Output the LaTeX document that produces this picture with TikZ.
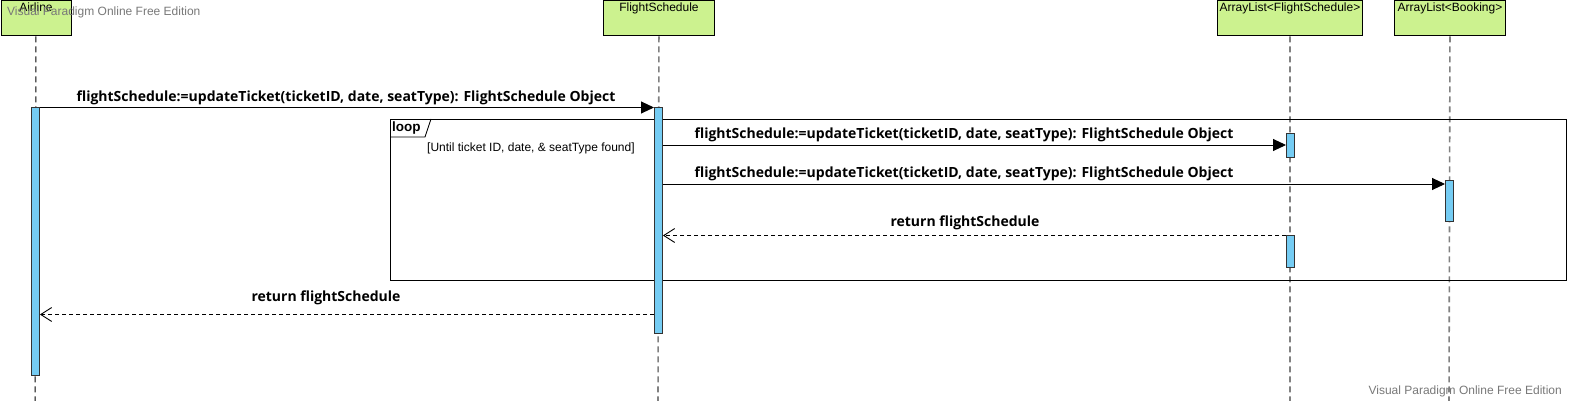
\documentclass[tikz,border=0pt]{standalone}
\usepackage{fontspec}
\setmainfont{Liberation Sans}
\newfontfamily\msgfont{Open Sans}
\usetikzlibrary{arrows.meta,calc}
\definecolor{boxgreen}{RGB}{204,242,143}
\definecolor{actblue}{RGB}{117,204,243}
\definecolor{lifegray}{RGB}{128,128,128}
\definecolor{wmgray}{RGB}{120,120,120}
\tikzset{
  lifebox/.style={draw=black, line width=0.9pt, fill=boxgreen, anchor=north west, inner sep=0pt},
  boxlabel/.style={anchor=north, inner sep=0pt, font=\fontsize{12}{13}\selectfont, yshift=-2pt},
  lifeline/.style={draw=lifegray, line width=1.6pt, dash pattern=on 6pt off 4pt},
  lifelineblack/.style={draw=black, line width=1pt, dash pattern=on 6pt off 4pt},
  actbar/.style={draw=black!80, line width=0.9pt, fill=actblue, anchor=north west, inner sep=0pt, minimum width=8pt},
  msg/.style={draw=black, line width=0.9pt, -{Triangle[length=13pt,width=12pt]}},
  ret/.style={draw=black, line width=0.9pt, dash pattern=on 4pt off 3pt, -{Straight Barb[length=11pt,width=14pt,line width=0.9pt]}},
  msglabel/.style={font=\msgfont\bfseries\fontsize{14}{16}\selectfont, inner sep=0pt},
  wm/.style={font=\fontsize{12}{14}\selectfont, text=wmgray, inner sep=0pt},
}
\begin{document}
\begin{tikzpicture}[x=1pt,y=-1pt]
\useasboundingbox (0,0) rectangle (1569,401);
% lifeline heads
\node[lifebox, minimum width=70pt, minimum height=35pt] (airline) at (0.5,0.5) {};
\node[lifebox, minimum width=111pt, minimum height=35pt] (fs) at (603,0.5) {};
\node[lifebox, minimum width=145pt, minimum height=35pt] (alfs) at (1217,0.5) {};
\node[lifebox, minimum width=111pt, minimum height=35pt] (alb) at (1394,0.5) {};
\node[boxlabel] (airlineL) at (airline.north) {Airline};
\node[boxlabel] (fsL) at (fs.north) {FlightSchedule};
\node[boxlabel] (alfsL) at (alfs.north) {ArrayList<FlightSchedule>};
\node[boxlabel] (albL) at (alb.north) {ArrayList<Booking>};
% lifeline ends
\coordinate (airlineEnd) at (35,401);
\coordinate (fsEnd) at (658,401);
\coordinate (alfsEnd) at (1290,401);
\coordinate (albEnd) at (1449,401);
\draw[lifelineblack] (airline.south) -- (airlineEnd);
\draw[lifeline] (fs.south) -- (fsEnd);
\draw[lifeline] (alfs.south) -- (alfsEnd);
\draw[lifeline] (alb.south) -- (albEnd);
% loop frame
\node[draw=black, line width=0.9pt, anchor=north west, minimum width=1176pt, minimum height=161pt, inner sep=0pt] (loopframe) at (390,119) {};
\coordinate (tabA) at (431,119);
\coordinate (tabB) at (425,137);
\coordinate (tabC) at (390,137);
\draw[black, line width=0.9pt] (tabA) -- (tabB) -- (tabC);
\node[font=\fontsize{13.5}{15}\selectfont\bfseries, anchor=west, inner sep=0pt] (loopL) at (392,128) {loop};
\node[font=\fontsize{12}{13}\selectfont, anchor=west, inner sep=0pt] (guard) at (427,148) {[Until ticket ID, date, \& seatType found]};
% activation bars
\node[actbar, minimum height=268pt] (actAir) at (31,107) {};
\node[actbar, minimum height=226pt] (actFs) at (654,107) {};
\node[actbar, minimum height=24pt] (actAlfs1) at (1286,133) {};
\node[actbar, minimum height=32pt] (actAlfs2) at (1286,235) {};
\node[actbar, minimum height=41pt] (actAlb) at (1445,180) {};
% message heights
\coordinate (y1) at (0,107.5);
\coordinate (y2) at (0,145);
\coordinate (y3) at (0,184);
\coordinate (y4) at (0,235.5);
\coordinate (y5) at (0,314.5);
% messages
\draw[msg] (actAir.east |- y1) -- (actFs.west |- y1);
\node[msglabel] (m1) at (346,97.5) {flightSchedule:=updateTicket(ticketID, date, seatType): FlightSchedule Object};
\draw[msg] (actFs.east |- y2) -- (actAlfs1.west |- y2);
\node[msglabel] (m2) at (964,134.5) {flightSchedule:=updateTicket(ticketID, date, seatType): FlightSchedule Object};
\draw[msg] (actFs.east |- y3) -- (actAlb.west |- y3);
\node[msglabel] (m3) at (964,173.5) {flightSchedule:=updateTicket(ticketID, date, seatType): FlightSchedule Object};
\draw[ret] (actAlfs2.west |- y4) -- (actFs.east |- y4);
\node[msglabel] (m4) at (965,222.5) {return flightSchedule};
\draw[ret] (actFs.west |- y5) -- (actAir.east |- y5);
\node[msglabel] (m5) at (326,297.5) {return flightSchedule};
% watermarks
\node[wm, anchor=west] (wm1) at (7,12) {Visual Paradigm Online Free Edition};
\node[wm, anchor=east] (wm2) at (1562,391) {Visual Paradigm Online Free Edition};
\end{tikzpicture}
\end{document}
